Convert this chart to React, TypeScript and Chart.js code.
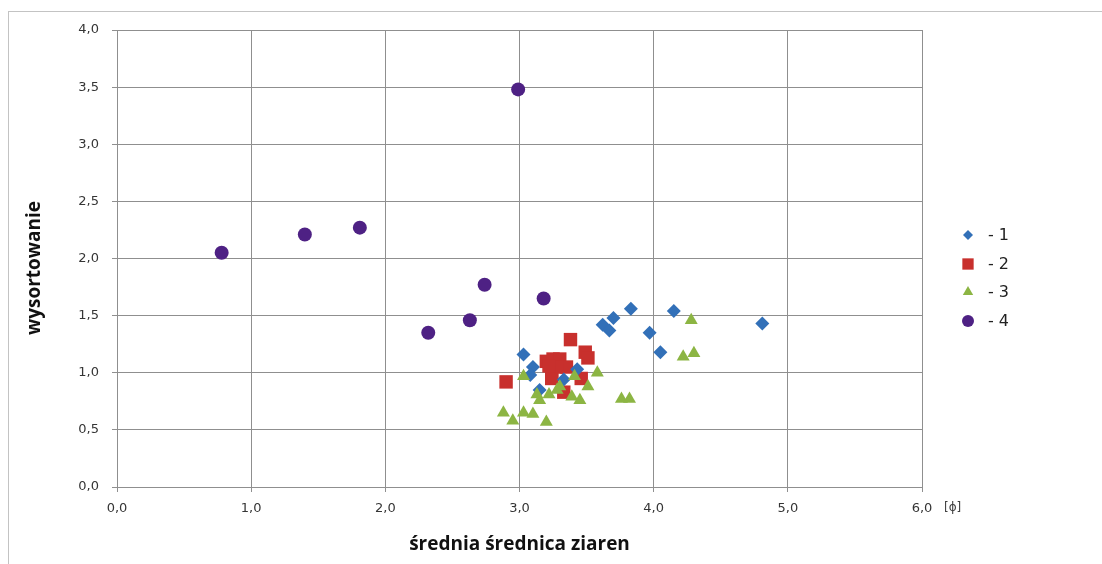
import React, { useEffect, useRef } from 'react';
import { Chart, registerables } from 'chart.js';
import { drawPoint } from 'chart.js/helpers';

Chart.register(...registerables);

// ---- data ----
const seriesLabels = ['- 1', '- 2', '- 3', '- 4'];

const s1X = [3.03, 3.10, 3.08, 3.15, 3.33, 3.43, 3.62, 3.67, 3.70, 3.83, 3.97, 4.05, 4.15, 4.81];
const s1Y = [1.16, 1.05, 0.98, 0.85, 0.94, 1.03, 1.42, 1.37, 1.48, 1.56, 1.35, 1.18, 1.54, 1.43];

const s2X = [2.90, 3.38, 3.49, 3.51, 3.20, 3.25, 3.30, 3.24, 3.24, 3.46, 3.33, 3.35, 3.28, 3.22];
const s2Y = [0.92, 1.29, 1.18, 1.13, 1.10, 1.12, 1.12, 1.01, 0.95, 0.95, 0.83, 1.05, 1.05, 1.06];

const s3X = [2.88, 2.95, 3.03, 3.10, 3.20, 3.03, 3.13, 3.15, 3.22, 3.28, 3.30, 3.39, 3.45, 3.41, 3.51, 3.58, 3.76, 3.82, 4.22, 4.30, 4.28];
const s3Y = [0.65, 0.58, 0.65, 0.64, 0.57, 0.97, 0.81, 0.76, 0.81, 0.85, 0.88, 0.79, 0.76, 0.97, 0.88, 1.00, 0.77, 0.77, 1.14, 1.17, 1.46];

const s4X = [0.78, 1.40, 1.81, 2.32, 2.63, 2.74, 2.99, 3.18];
const s4Y = [2.05, 2.21, 2.27, 1.35, 1.46, 1.77, 3.48, 1.65];

const xMin = 0, xMax = 6, xStep = 1;
const yMin = 0, yMax = 4, yStep = 0.5;
const xAxisTitle = 'średnia średnica ziaren';
const yAxisTitle = 'wysortowanie';
const xUnit = '[ϕ]';

// ---- styles ----
const colors = ['#3270B8', '#C8302D', '#8CB543', '#4E2184'];
const styles = ['rectRot', 'rect', 'triangle', 'circle'];
const radii = [7, 9.5, 7.5, 7];
const legendRadii = [5, 8, 6, 6];
const drawOrder = [1, 2, 0, 3];
const gridColor = '#8f8f8f';
const titleFont = 'bold 19px "Open Sans"';

const pts = (xs: number[], ys: number[]) => xs.map((x, i) => ({ x, y: ys[i] }));
const fmt = (v: number) => Number(v).toFixed(1).replace('.', ',');

const legendPlugin = {
  id: 'customLegend',
  afterDraw(chart: any) {
    const ctx = chart.ctx;
    const rowsY = [235, 264, 292, 321];
    ctx.save();
    chart.data.datasets.forEach((ds: any, i: number) => {
      ctx.fillStyle = ds.backgroundColor;
      ctx.strokeStyle = ds.backgroundColor;
      drawPoint(ctx, { pointStyle: ds.pointStyle, radius: legendRadii[i], rotation: 0, borderWidth: 0 } as any, 968, rowsY[i]);
      ctx.fillStyle = '#222';
      ctx.font = '16px "DejaVu Sans"';
      ctx.textAlign = 'left';
      ctx.textBaseline = 'middle';
      ctx.fillText(ds.label, 988, rowsY[i] + 1);
    });
    ctx.restore();
  },
};

const textPlugin = {
  id: 'extraText',
  afterDraw(chart: any) {
    const ctx = chart.ctx;
    const area = chart.chartArea;
    ctx.save();
    ctx.fillStyle = '#404040';
    ctx.font = '12px "DejaVu Sans"';
    ctx.textAlign = 'left';
    ctx.textBaseline = 'middle';
    ctx.fillText(xUnit, area.right + 22, area.bottom + 21);

    ctx.fillStyle = '#111';
    ctx.font = titleFont;
    ctx.textAlign = 'center';
    ctx.textBaseline = 'middle';
    ctx.translate(35, 268);
    ctx.rotate(-Math.PI / 2);
    ctx.fillText(yAxisTitle, 0, 0);
    ctx.restore();
  },
};

export default function App() {
  const ref = useRef<HTMLCanvasElement>(null);
  useEffect(() => {
    const datasets = [
      pts(s1X, s1Y), pts(s2X, s2Y), pts(s3X, s3Y), pts(s4X, s4Y),
    ].map((data, i) => ({
      label: seriesLabels[i],
      data,
      pointStyle: styles[i],
      pointRadius: radii[i],
      pointHoverRadius: radii[i],
      backgroundColor: colors[i],
      borderColor: colors[i],
      pointBorderWidth: 0,
      borderWidth: 0,
      order: drawOrder[i],
    }));
    const chart = new Chart(ref.current as HTMLCanvasElement, {
      type: 'scatter',
      data: { datasets } as any,
      options: {
        responsive: false,
        animation: false,
        layout: { padding: { top: 30, right: 180, bottom: 0, left: 0 } },
        plugins: { legend: { display: false }, tooltip: { enabled: false } },
        scales: {
          x: {
            type: 'linear',
            min: xMin,
            max: xMax,
            afterFit: (s: any) => { s.height = 77; },
            grid: { color: gridColor, tickLength: 5, drawTicks: true, tickColor: gridColor },
            border: { display: true, color: gridColor },
            ticks: {
              stepSize: xStep,
              padding: 9,
              color: '#353535',
              font: { family: '"DejaVu Sans"', size: 13 },
              callback: (v: any) => fmt(v),
            },
            title: {
              display: true,
              text: xAxisTitle,
              color: '#111',
              font: { family: '"Open Sans"', size: 19, weight: 'bold' },
              padding: 8,
            },
          },
          y: {
            type: 'linear',
            min: yMin,
            max: yMax,
            afterFit: (s: any) => { s.width = 117; },
            grid: { color: gridColor, tickLength: 5, drawTicks: true, tickColor: gridColor },
            border: { display: true, color: gridColor },
            ticks: {
              stepSize: yStep,
              padding: 13,
              color: '#353535',
              font: { family: '"DejaVu Sans"', size: 13 },
              callback: (v: any) => fmt(v),
            },
            title: { display: false },
          },
        },
      } as any,
      plugins: [legendPlugin, textPlugin],
    });
    return () => chart.destroy();
  }, []);

  return (
    <div style={{ position: 'absolute', left: 0, top: 0, width: 1102, height: 564, background: '#fff', overflow: 'hidden' }}>
      <div style={{ position: 'absolute', left: 8, top: 11, width: 1200, height: 700, borderTop: '1px solid #c3c3c3', borderLeft: '1px solid #c3c3c3' }} />
      <canvas ref={ref} width={1102} height={564} style={{ position: 'absolute', left: 0, top: 0 }} />
    </div>
  );
}
